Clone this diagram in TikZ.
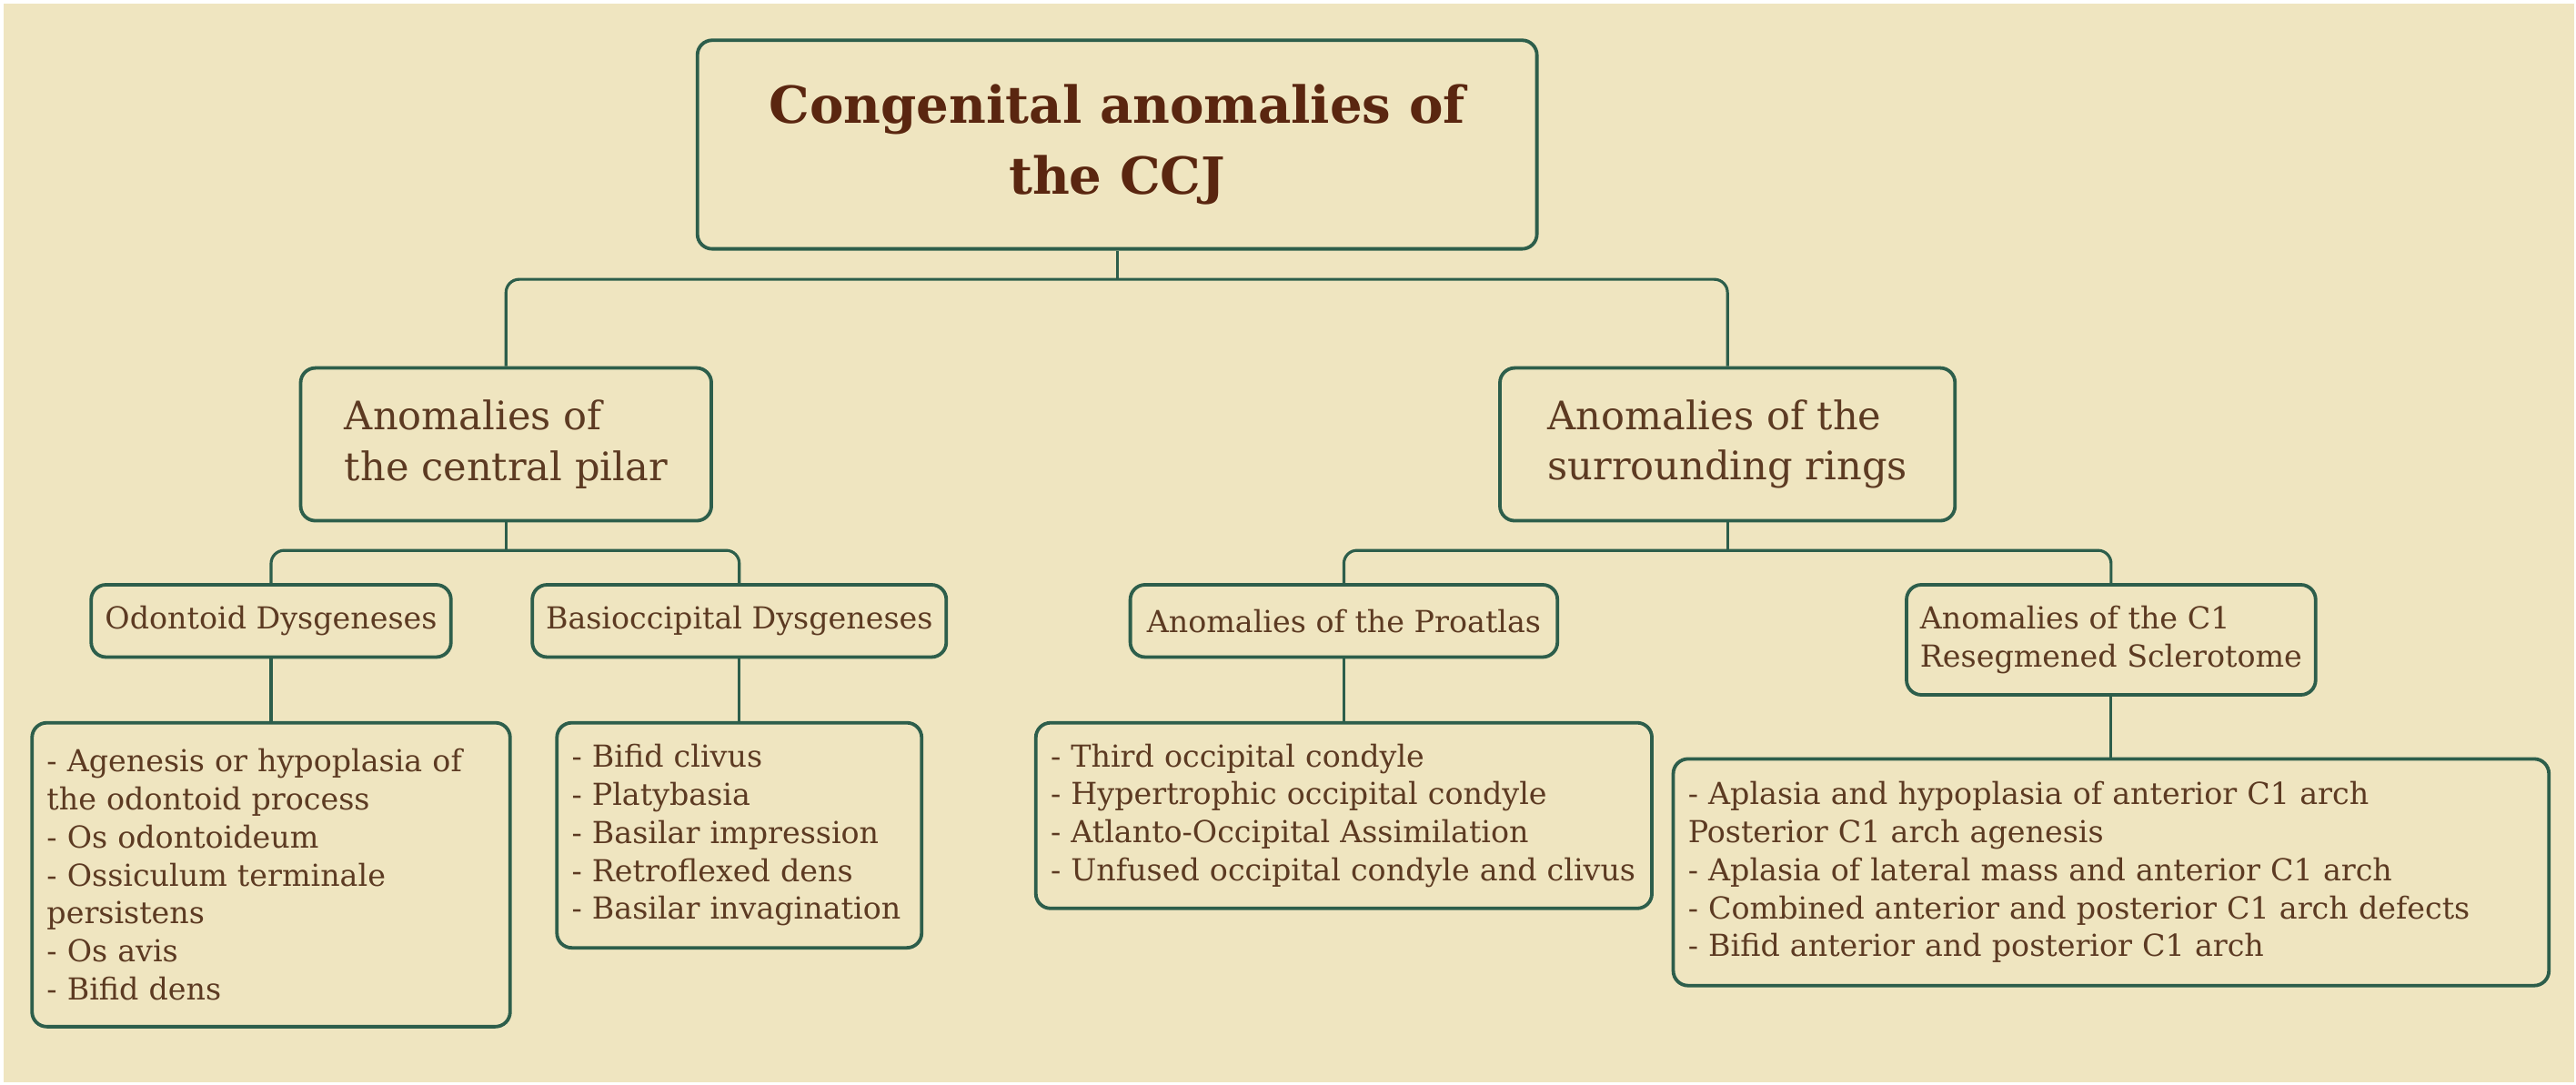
\documentclass[tikz,border=0pt]{standalone}
\usepackage{fontspec}
\setmainfont{DejaVu Serif}
\usepackage{xcolor}
\definecolor{paper}{HTML}{EFE5C0}
\definecolor{frame}{HTML}{2D5E4B}
\definecolor{ink}{HTML}{5C3A22}
\definecolor{titleink}{HTML}{5A2610}
\def\px{0.2mm}

\begin{document}
\begin{tikzpicture}[x=0.2mm, y=-0.2mm,
    box/.style={draw=frame, line width=1.2pt, rounded corners=1.8mm, fill=paper,
      text=ink, inner xsep=0pt, inner ysep=0pt, align=left},
    titlebox/.style={box, align=center, text=titleink,
      font=\fontsize{17.7}{24.5}\selectfont\bfseries},
    groupbox/.style={box, font=\fontsize{13.6}{17.5}\selectfont},
    subbox/.style={box, font=\fontsize{10.5}{13.2}\selectfont},
    listbox/.style={box, inner xsep=1.8mm, font=\fontsize{10.5}{13.15}\selectfont},
    link/.style={draw=frame, line width=1pt, rounded corners=1.6mm}]
    \useasboundingbox (0,0) rectangle (1568,660);
    \fill [white] (0,0) rectangle (1568,660);
    \fill [paper] (2,2) rectangle (1567,659);
    % top level
    \node [titlebox, minimum width=511*\px, minimum height=127*\px] (root) at (680,88)
      {Congenital anomalies of\\the CCJ};
    \node [groupbox, minimum width=250*\px, minimum height=93*\px] (pilar) at (308,270.5)
      {Anomalies of\\the central pilar};
    \node [groupbox, minimum width=277*\px, minimum height=93*\px] (rings) at (1051.5,270.5)
      {Anomalies of the\\surrounding rings};
    % second level
    \node [subbox, minimum width=219*\px, minimum height=44*\px] (odont) at (165,378)
      {Odontoid Dysgeneses};
    \node [subbox, minimum width=252*\px, minimum height=44*\px] (basi) at (450,378)
      {Basioccipital Dysgeneses};
    \node [subbox, minimum width=260*\px, minimum height=44*\px] (proat) at (818,378)
      {Anomalies of the Proatlas};
    \node [subbox, minimum width=249*\px, minimum height=67*\px] (cone) at (1285,389.5)
      {Anomalies of the C1\\Resegmened Sclerotome};
    % lists
    \node [listbox, text width=273*\px, minimum height=185*\px] (odontlist) at (165,532.5)
      {- Agenesis or hypoplasia of\\the odontoid process\\- Os odontoideum\\- Ossiculum terminale\\persistens\\- Os avis\\- Bifid dens};
    \node [listbox, text width=204*\px, minimum height=137*\px] (basilist) at (450,508.5)
      {- Bifid clivus\\- Platybasia\\- Basilar impression\\- Retroflexed dens\\- Basilar invagination};
    \node [listbox, text width=357*\px, minimum height=113*\px] (proatlist) at (818,496.5)
      {- Third occipital condyle\\- Hypertrophic occipital condyle\\- Atlanto-Occipital Assimilation\\- Unfused occipital condyle and clivus};
    \node [listbox, text width=515*\px, minimum height=138*\px] (conelist) at (1285,531)
      {- Aplasia and hypoplasia of anterior C1 arch\\Posterior C1 arch agenesis\\- Aplasia of lateral mass and anterior C1 arch\\- Combined anterior and posterior C1 arch defects\\- Bifid anterior and posterior C1 arch};
    % connectors
    \draw [link] (root.south) -- ([yshift=-3.5mm]root.south);
    \draw [link] (pilar.north) |- ([yshift=-3.5mm]root.south) -| (rings.north);
    \draw [link] (pilar.south) -- ([yshift=-3.4mm]pilar.south);
    \draw [link] (odont.north) |- ([yshift=-3.4mm]pilar.south) -| (basi.north);
    \draw [link] (rings.south) -- ([yshift=-3.4mm]rings.south);
    \draw [link] (proat.north) |- ([yshift=-3.4mm]rings.south) -| (cone.north);
    \draw [link] (odont.south) -- (odontlist.north);
    \draw [link] (basi.south) -- (basilist.north);
    \draw [link] (proat.south) -- (proatlist.north);
    \draw [link] (cone.south) -- (conelist.north);
\end{tikzpicture}
\end{document}
